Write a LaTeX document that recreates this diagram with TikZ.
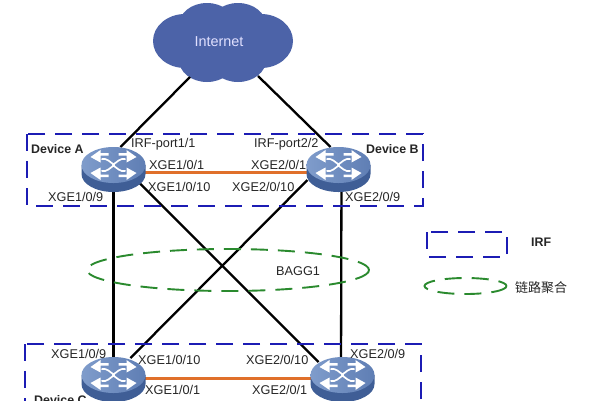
\documentclass[tikz,border=0pt]{standalone}
\usepackage{fontspec}
\setmainfont{Liberation Sans}
\newfontfamily\cjkfont{Noto Sans CJK SC}
\usetikzlibrary{calc}
\definecolor{irfblue}{HTML}{1C1CB4}
\definecolor{bagggreen}{HTML}{2A8A2E}
\definecolor{cloudblue}{HTML}{4C63A8}
\definecolor{linkorange}{HTML}{E0702A}
\definecolor{swtopL}{HTML}{7F9CCB}
\definecolor{swtopR}{HTML}{5F7EB4}
\definecolor{swside}{HTML}{3F5E96}
\tikzset{
  x=1pt,y=-1pt,
  lbl/.style={anchor=west,inner sep=0pt,font=\fontsize{12.7}{14}\selectfont,text=black!85},
  blbl/.style={lbl,font=\fontsize{12.4}{14}\selectfont\bfseries},
  swnode/.style={inner sep=0pt,minimum width=64pt,minimum height=36pt},
  trunk/.style={black,line width=2.3pt},
  irflink/.style={linkorange,line width=3pt},
  irfbox/.style={irfblue,line width=2.2pt,dash pattern=on 17pt off 10pt},
  baggring/.style={bagggreen,line width=1.9pt,dash pattern=on 17pt off 10pt},
  netswitch/.pic={
    \path[fill=swside] (-32,0) -- (-32,9) arc[start angle=180,end angle=360,x radius=32,y radius=-18] -- (32,0) -- cycle;
    \path[left color=swtopL,right color=swtopR] (0,0) ellipse[x radius=32,y radius=18];
    \foreach \sx/\sy in {1/1,-1/1,1/-1,-1/-1}{
      \begin{scope}[xscale=\sx,yscale=\sy]
        \fill[white] (-23,-8) -- (-13,-15) -- (-13,-12) -- (-5,-12) -- (-5,-9.5) -- (-13,-9.5) -- (-13,-2.5) -- cycle;
        \draw[white,line width=1.7pt] (-12,-6) .. controls (-6,-7) and (-4,-3) .. (1,0);
      \end{scope}
    }
  }
}
\begin{document}
\begin{tikzpicture}
\useasboundingbox (0,0) rectangle (593,400);
\clip (0,0) rectangle (593,400);
\fill[white] (0,0) rectangle (593,400);
% cloud
\fill[cloudblue] (185,41) ellipse[x radius=32,y radius=27]
  (261,41) ellipse[x radius=32,y radius=27]
  (207,25) ellipse[x radius=28,y radius=22]
  (238,25) ellipse[x radius=28,y radius=22]
  (207,60) ellipse[x radius=28,y radius=22]
  (238,60) ellipse[x radius=28,y radius=22];
\node[inner sep=0pt,font=\fontsize{14.4}{16}\selectfont,text=white!88!blue] (cloud) at (219,41.5) {Internet};
% switch anchors
\node[swnode] (A) at (113.5,165) {};
\node[swnode] (B) at (338.5,165) {};
\node[swnode] (C) at (113.5,375) {};
\node[swnode] (D) at (342.5,375) {};
% connectors
\draw[trunk] ($(cloud)+(-29,35.5)$) -- ($(A)+(7,-18)$);
\draw[trunk] ($(cloud)+(39,34.5)$) -- ($(B)+(-8,-18)$);
\draw[trunk] (A) -- (C);
\draw[trunk] ($(B)+(3,0)$) -- ($(D)+(-1.5,0)$);
\draw[trunk] ($(A)+(22,14)$) -- ($(D)+(-24,-13)$);
\draw[trunk] ($(B)+(-31,15)$) -- ($(C)+(17,-17)$);
\draw[irflink] ($(A)+(30,7)$) -- ($(B)+(-30,7)$);
\draw[irflink] ($(C)+(30,3)$) -- ($(D)+(-30,3)$);
% boxes
\draw[irfbox] (27,134) rectangle (423,206);
\draw[irfbox] (25,344) rectangle (421,430);
\draw[irfbox] (427,232) rectangle (507,257);
\draw[baggring] (228,270) ellipse[x radius=141,y radius=21];
\draw[baggring] (465.5,286) ellipse[x radius=41,y radius=8];
% switches
\pic at (A) {netswitch};
\pic at (B) {netswitch};
\pic at (C) {netswitch};
\pic at (D) {netswitch};
% labels
\node[blbl] (tA) at (31,149) {Device A};
\node[blbl] (tB) at (366,149) {Device B};
\node[blbl] (tC) at (34,400) {Device C};
\node[lbl] (p1) at (131,144) {IRF-port1/1};
\node[lbl] (p2) at (254,144) {IRF-port2/2};
\node[lbl] (a1) at (149,165) {XGE1/0/1};
\node[lbl] (a10) at (148,187) {XGE1/0/10};
\node[lbl] (a9) at (48,197) {XGE1/0/9};
\node[lbl] (b1) at (251,165) {XGE2/0/1};
\node[lbl] (b10) at (232,187) {XGE2/0/10};
\node[lbl] (b9) at (345,197) {XGE2/0/9};
\node[lbl] (c9) at (51,354) {XGE1/0/9};
\node[lbl] (c10) at (138,359.5) {XGE1/0/10};
\node[lbl] (c1) at (145,389.5) {XGE1/0/1};
\node[lbl] (d10) at (246,360) {XGE2/0/10};
\node[lbl] (d9) at (350,354) {XGE2/0/9};
\node[lbl] (d1) at (252,390) {XGE2/0/1};
\node[lbl] (bagg) at (276,271) {BAGG1};
\node[blbl] (legirf) at (531,242.5) {IRF};
\node[lbl,font=\cjkfont\fontsize{13}{14}\selectfont] (legagg) at (515,288) {链路聚合};
\end{tikzpicture}
\end{document}
